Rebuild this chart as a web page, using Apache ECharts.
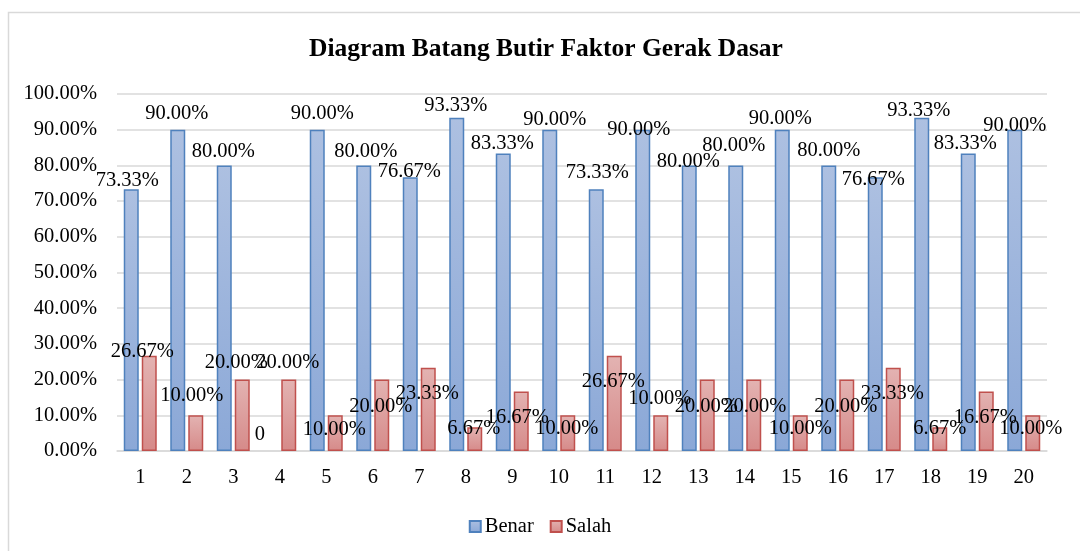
<!DOCTYPE html>
<html>
<head>
<meta charset="utf-8">
<script src="https://cdn.jsdelivr.net/npm/echarts@6/dist/echarts.min.js"></script>
<style>
  html, body { margin: 0; padding: 0; background: #fff; }
  #chart { width: 1080px; height: 551px; }
</style>
</head>
<body>
<div id="chart"></div>
<script>
// data
const categories = ['1','2','3','4','5','6','7','8','9','10','11','12','13','14','15','16','17','18','19','20'];
const benar = [73.33, 90, 80, 0, 90, 80, 76.67, 93.33, 83.33, 90, 73.33, 90, 80, 80, 90, 80, 76.67, 93.33, 83.33, 90];
const salah = [26.67, 10, 20, 20, 10, 20, 23.33, 6.67, 16.67, 10, 26.67, 10, 20, 20, 10, 20, 23.33, 6.67, 16.67, 10];
const yTicks = [0, 10, 20, 30, 40, 50, 60, 70, 80, 90, 100];

// label nudges (px) so the labels sit where the original put them
const benarLabelShift = [[-4,-9],[-1,-16],[-1,-14],[-11,-16],[5,-16],[2,-14],[-1,-6],[-1,-12],[-1,-10],[5,-10],
  [1,-17],[-4,0],[-1,-4],[-2,-20],[-2,-11],[0,-15],[-2,2],[-3,-7],[-3,-10],[0,-4]];
const salahLabelShift = [[-7,-4],[-4,-20],[-6,-17],[-1,-17],[-1,14],[-1,27],[-1,26],[-1,1],[-4,26],[-1,13],
  [-1,26],[-1,-17],[-1,27],[1,27],[0,13],[-1,27],[-1,26],[0,1],[-1,26],[-2,13]];

const FONT = '"Liberation Serif", "Times New Roman", serif';
const FS = 20.5;

const chart = echarts.init(document.getElementById('chart'));

function fmtPct(v) {
  return v === 0 ? '0' : v.toFixed(2) + '%';
}

function items(values, shifts) {
  return values.map((v, i) => {
    const it = { value: v, label: { offset: shifts[i] } };
    if (v === 0) it.itemStyle = { borderWidth: 0 }; // empty bar, Excel draws nothing
    return it;
  });
}

const labelBase = {
  show: true,
  position: ['50%', 0],
  align: 'center',
  verticalAlign: 'middle',
  fontFamily: FONT,
  fontSize: FS,
  color: '#000',
  formatter: (p) => fmtPct(p.value)
};

const option = {
  backgroundColor: '#fff',
  animation: false,
  graphic: [{
    type: 'rect',
    shape: { x: 8.5, y: 12.5, width: 1200, height: 700 },
    style: { fill: 'none', stroke: '#d9d9d9', lineWidth: 1.5 },
    z: -1
  }],
  title: {
    text: 'Diagram Batang Butir Faktor Gerak Dasar',
    left: 541,
    textAlign: 'center',
    top: 31,
    textStyle: { fontFamily: FONT, fontSize: 25.5, fontWeight: 'bold', color: '#000' }
  },
  legend: {
    bottom: 9,
    left: 'center',
    itemWidth: 11,
    itemHeight: 11,
    itemGap: 16,
    icon: 'rect',
    textStyle: { fontFamily: FONT, fontSize: FS, color: '#000', padding: [0, 0, 0, -1] },
    data: ['Benar', 'Salah']
  },
  grid: { left: 117, right: 33, top: 94, bottom: 100 },
  xAxis: {
    type: 'category',
    data: categories,
    axisLine: { lineStyle: { color: '#d9d9d9', width: 1.5 } },
    axisTick: { show: false },
    axisLabel: { fontFamily: FONT, fontSize: FS, color: '#000', margin: 16 }
  },
  yAxis: {
    type: 'value',
    min: yTicks[0],
    max: yTicks[yTicks.length - 1],
    interval: yTicks[1] - yTicks[0],
    axisLine: { show: false },
    axisTick: { show: false },
    splitLine: { lineStyle: { color: '#d9d9d9', width: 1.5 } },
    axisLabel: {
      fontFamily: FONT, fontSize: FS, color: '#000', margin: 20,
      formatter: (v) => v.toFixed(2) + '%'
    }
  },
  series: [
    {
      name: 'Benar',
      type: 'bar',
      barWidth: 15,
      barGap: '20%',
      itemStyle: {
        color: new echarts.graphic.LinearGradient(0, 0, 0, 1, [
          { offset: 0, color: '#adc0e1' },
          { offset: 1, color: '#8ba8d7' }
        ]),
        borderColor: '#4f81bd',
        borderWidth: 1.5
      },
      label: labelBase,
      data: items(benar, benarLabelShift)
    },
    {
      name: 'Salah',
      type: 'bar',
      barWidth: 15,
      itemStyle: {
        color: new echarts.graphic.LinearGradient(0, 0, 0, 1, [
          { offset: 0, color: '#e3b3b2' },
          { offset: 1, color: '#d68a89' }
        ]),
        borderColor: '#c0504d',
        borderWidth: 1.5
      },
      label: labelBase,
      data: items(salah, salahLabelShift)
    }
  ]
};

chart.setOption(option);
</script>
</body>
</html>
